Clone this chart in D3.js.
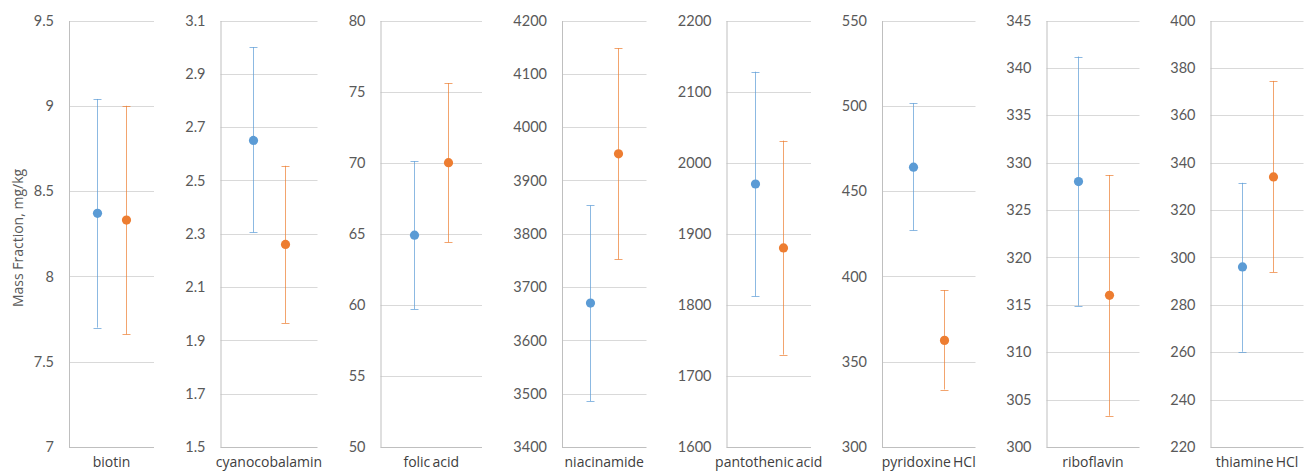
<!DOCTYPE html>
<html>
<head>
<meta charset="utf-8">
<script src="https://cdn.jsdelivr.net/npm/d3@7"></script>
<style>
  html, body { margin: 0; padding: 0; background: #fff; }
  svg { display: block; font-family: Lato, "Open Sans", sans-serif; }
</style>
</head>
<body>
<svg id="chart" width="1306" height="472"></svg>
<script>
// Vitamins measured, one small panel each
const analytes = ["biotin", "cyanocobalamin", "folic acid", "niacinamide",
                  "pantothenic acid", "pyridoxine HCl", "riboflavin", "thiamine HCl"];
const series = ["A", "B"];

// Mean mass fraction (mg/kg) for each series
const meanA = [8.37, 2.65, 64.9, 3670, 1970, 464, 328, 296];
const meanB = [8.33, 2.26, 70.0, 3950, 1880, 362.5, 316, 334];

// Error bar extents (upper / lower)
const upperA = [9.04, 3.00, 70.1, 3853, 2128, 501.5, 341.2, 331.5];
const lowerA = [7.70, 2.305, 59.7, 3486, 1812, 427, 314.9, 260.2];
const upperB = [9.00, 2.555, 75.6, 4148, 2031, 392, 328.7, 374.5];
const lowerB = [7.66, 1.965, 64.4, 3752, 1730, 333.7, 303.3, 293.8];

// Axis ranges and tick spacing per panel
const yMin  = [7,   1.5, 50, 3400, 1600, 300, 300, 220];
const yMax  = [9.5, 3.1, 80, 4200, 2200, 550, 345, 400];
const yStep = [0.5, 0.2, 5,  100,  100,  50,  5,   20];

const yTitle = "Mass Fraction, mg/kg";

// Panel frames (plot area left/right edges)
const panelLeft  = [69, 220.5, 380.5, 562, 726.5, 882, 1046.5, 1210.5];
const panelRight = [154, 317.5, 482, 646.5, 811, 975.5, 1139.5, 1303.5];
const plotTop = 20.5, plotBottom = 447;

const colors = { A: "#5B9BD5", B: "#ED7D31" };
const svg = d3.select("#chart");

analytes.forEach((name, i) => {
  const g = svg.append("g");
  const x = d3.scalePoint().domain(series).range([panelLeft[i], panelRight[i]]).padding(1);
  const y = d3.scaleLinear().domain([yMin[i], yMax[i]]).range([plotBottom, plotTop]);
  const n = Math.round((yMax[i] - yMin[i]) / yStep[i]);
  const ticks = d3.range(n + 1).map(k => +(yMin[i] + k * yStep[i]).toFixed(4));

  // horizontal gridlines
  g.append("g").selectAll("line").data(ticks.slice(1)).join("line")
    .attr("x1", panelLeft[i]).attr("x2", panelRight[i])
    .attr("y1", d => Math.round(y(d)) + 0.5).attr("y2", d => Math.round(y(d)) + 0.5)
    .attr("stroke", "#d9d9d9").attr("stroke-width", 1);

  // left axis with tick labels
  const axis = d3.axisLeft(y).tickValues(ticks).tickSize(0).tickPadding(15)
    .tickFormat(d => String(d));
  const ag = g.append("g").attr("transform", `translate(${panelLeft[i]},0)`).call(axis);
  ag.select(".domain").attr("stroke", "#bfbfbf");
  ag.selectAll("text").attr("fill", "#595959").style("font-size", "14.5px")
    .style("font-family", "Lato, sans-serif");

  // bottom axis line
  g.append("line").attr("x1", panelLeft[i]).attr("x2", panelRight[i])
    .attr("y1", plotBottom + 0.5).attr("y2", plotBottom + 0.5).attr("stroke", "#bfbfbf");

  // category label
  g.append("text").attr("x", (panelLeft[i] + panelRight[i]) / 2).attr("y", 467)
    .attr("text-anchor", "middle").attr("fill", "#404040")
    .style("font-family", "'Open Sans', sans-serif")
    .style("font-size", "14px").style("word-spacing", "-1.5px").text(name);

  const pts = [
    { s: "A", m: meanA[i], hi: upperA[i], lo: lowerA[i] },
    { s: "B", m: meanB[i], hi: upperB[i], lo: lowerB[i] }
  ];
  pts.forEach(p => {
    const cx = Math.round(x(p.s)) + 0.5;
    const c = colors[p.s];
    const bar = g.append("g").attr("stroke", c).attr("stroke-opacity", 0.7).attr("stroke-width", 1);
    bar.append("line").attr("x1", cx).attr("x2", cx)
      .attr("y1", y(p.hi)).attr("y2", y(p.lo));
    [p.hi, p.lo].forEach(v => {
      bar.append("line").attr("x1", cx - 4).attr("x2", cx + 4)
        .attr("y1", Math.round(y(v)) + 0.5).attr("y2", Math.round(y(v)) + 0.5);
    });
    g.append("circle").attr("cx", cx).attr("cy", y(p.m)).attr("r", 4.6).attr("fill", c);
  });
});

// shared y-axis title
svg.append("text")
  .attr("transform", "translate(22.5,238) rotate(-90)")
  .attr("text-anchor", "middle").attr("fill", "#595959")
  .style("font-family", "'Open Sans', sans-serif")
  .style("font-size", "14px").text(yTitle);
</script>
</body>
</html>
